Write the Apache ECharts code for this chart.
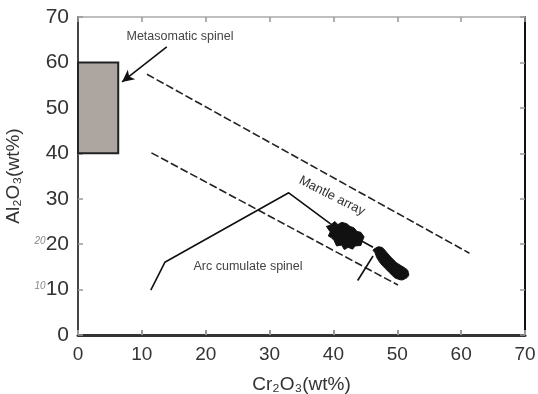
<!DOCTYPE html>
<html><head><meta charset="utf-8">
<script src="https://cdn.jsdelivr.net/npm/echarts@6/dist/echarts.min.js"></script>
<style>html,body{margin:0;padding:0;background:#fff}#c{width:538px;height:394px}</style>
</head><body><div id="c"></div>
<script>
var xTicks = [0,10,20,30,40,50,60,70];
var yTicks = [0,10,20,30,40,50,60,70];
// metasomatic spinel field [xmin, xmax, ymin, ymax]
var metasomaticBox = [0, 6.3, 40, 60];
// mantle array bounds (dashed)
var mantleUpper = [[10.8, 57.4], [61.3, 18.0]];
var mantleLower = [[11.5, 40.1], [50.1, 11.0]];
// arc cumulate spinel trend (solid)
var arcTrend = [[11.4, 9.9], [13.6, 16.0], [33.0, 31.3], [39.5, 24.5], [46.2, 19.3]];
var arcTick = [[43.8, 12.0], [46.2, 17.4]];
// arrow from label to box
var arrowFrom = [13.9, 63.4];
var arrowTo = [6.9, 55.7];
// sample fields (filled blobs)
var blob1 = [[38.9,23.9],[39.6,24.2],[40.2,25.0],[40.7,24.3],[41.3,24.8],[42.1,24.5],[42.6,23.9],[43.2,23.6],[43.7,22.8],[44.3,22.6],[44.8,21.6],[44.5,20.6],[44.3,19.7],[43.4,19.6],[43.0,18.9],[42.3,19.3],[41.7,18.8],[41.3,19.8],[40.5,19.6],[40.1,20.8],[39.7,21.4],[39.2,21.8],[39.5,22.7]];
var blob2 = [[46.2,18.7],[47.0,19.4],[47.7,19.2],[48.4,18.1],[49.1,17.0],[49.9,15.9],[50.9,15.0],[51.6,14.3],[51.8,13.2],[51.5,12.6],[50.7,12.1],[49.6,12.6],[48.8,13.7],[48.0,14.8],[47.3,15.9],[46.8,17.0],[46.5,18.1]];

var chart = echarts.init(document.getElementById('c'), null, {renderer:'canvas'});
var FONT = 'Liberation Sans';

function polySeries(pts, smooth) {
  return {
    type: 'custom',
    data: [0],
    renderItem: function (params, api) {
      var p = pts.map(function (d) { return api.coord(d); });
      return { type: 'polygon', shape: { points: p, smooth: smooth }, style: { fill: '#111', stroke: '#111', lineWidth: 1 } };
    },
    silent: true, z: 5
  };
}

chart.setOption({
  animation: false,
  grid: { left: 78, right: 13, top: 17, bottom: 59, containLabel: false, outerBoundsMode: 'none' },
  xAxis: [{
    type: 'value', min: 0, max: 70, interval: 10, position: 'bottom',
    splitLine: { show: false },
    axisLine: { onZero: false, lineStyle: { color: '#333', width: 3 } },
    axisTick: { inside: true, length: 5, lineStyle: { color: '#999', width: 2 } },
    axisLabel: { fontFamily: FONT, fontSize: 19, color: '#333', margin: 10 },
    name: 'Cr₂O₃(wt%)', nameLocation: 'middle', nameGap: 40,
    nameTextStyle: { fontFamily: FONT, fontSize: 19, color: '#333' }
  }, {
    type: 'value', min: 0, max: 70, interval: 10, position: 'top',
    splitLine: { show: false },
    axisLine: { show: true, onZero: false, lineStyle: { color: '#aaa', width: 1.5 } },
    axisTick: { show: true, inside: true, length: 5, lineStyle: { color: '#999', width: 1.5 } },
    axisLabel: { show: false }
  }],
  yAxis: [{
    type: 'value', min: 0, max: 70, interval: 10, position: 'left',
    splitLine: { show: false },
    axisLine: { show: true, onZero: false, lineStyle: { color: '#444', width: 2 } },
    axisTick: { show: true, inside: true, length: 5, lineStyle: { color: '#999', width: 1.5 } },
    axisLabel: {
      margin: 9,
      formatter: function (v) {
        if (v === 10 || v === 20) return '{g|' + v + '}{a|' + v + '}';
        return '{a|' + v + '}';
      },
      rich: {
        a: { fontFamily: FONT, fontSize: 21, color: '#333' },
        g: { fontFamily: FONT, fontSize: 10, color: '#888', fontStyle: 'italic', padding: [0, 0, 6, 0] }
      }
    },
    name: 'Al₂O₃(wt%)', nameLocation: 'middle', nameGap: 51, nameRotate: 90,
    nameTextStyle: { fontFamily: FONT, fontSize: 19, color: '#333' }
  }, {
    type: 'value', min: 0, max: 70, interval: 10, position: 'right',
    splitLine: { show: false },
    axisLine: { show: true, onZero: false, lineStyle: { color: '#111', width: 2 } },
    axisTick: { show: true, inside: true, length: 5, lineStyle: { color: '#999', width: 1.5 } },
    axisLabel: { show: false }
  }],
  series: [
    {
      type: 'custom', data: [0], silent: true, z: 3,
      renderItem: function (params, api) {
        var b = metasomaticBox;
        var p0 = api.coord([b[0], b[3]]);
        var p1 = api.coord([b[1], b[2]]);
        return { type: 'rect', shape: { x: p0[0], y: p0[1], width: p1[0] - p0[0], height: p1[1] - p0[1] },
          style: { fill: '#aca5a0', stroke: '#222', lineWidth: 2 } };
      }
    },
    { type: 'line', data: mantleUpper, showSymbol: false, silent: true,
      lineStyle: { color: '#222', width: 1.6, type: [8, 3] } },
    { type: 'line', data: mantleLower, showSymbol: false, silent: true,
      lineStyle: { color: '#222', width: 1.6, type: [8, 3] } },
    { type: 'line', data: arcTrend, showSymbol: false, silent: true,
      lineStyle: { color: '#111', width: 1.6 } },
    { type: 'line', data: arcTick, showSymbol: false, silent: true,
      lineStyle: { color: '#111', width: 1.6 } },
    { type: 'line', data: [], silent: true,
      markLine: { silent: true, symbol: ['none', 'arrow'], symbolSize: [9, 12], animation: false,
        label: { show: false },
        lineStyle: { color: '#111', width: 1.6, type: 'solid' },
        data: [[{ coord: arrowFrom }, { coord: arrowTo }]] } },
    polySeries(blob1, 0),
    polySeries(blob2, 0.2)
  ],
  graphic: [
    { type: 'text', x: 180, y: 37, style: { text: 'Metasomatic spinel', fontFamily: FONT, fontSize: 12.5, fill: '#444', align: 'center', verticalAlign: 'middle' } },
    { type: 'text', x: 332, y: 196, rotation: -0.47, style: { text: 'Mantle array', fontFamily: FONT, fontSize: 13, fill: '#333', align: 'center', verticalAlign: 'middle' } },
    { type: 'text', x: 248, y: 267, style: { text: 'Arc cumulate spinel', fontFamily: FONT, fontSize: 12.5, fill: '#444', align: 'center', verticalAlign: 'middle' } }
  ]
});
</script></body></html>
